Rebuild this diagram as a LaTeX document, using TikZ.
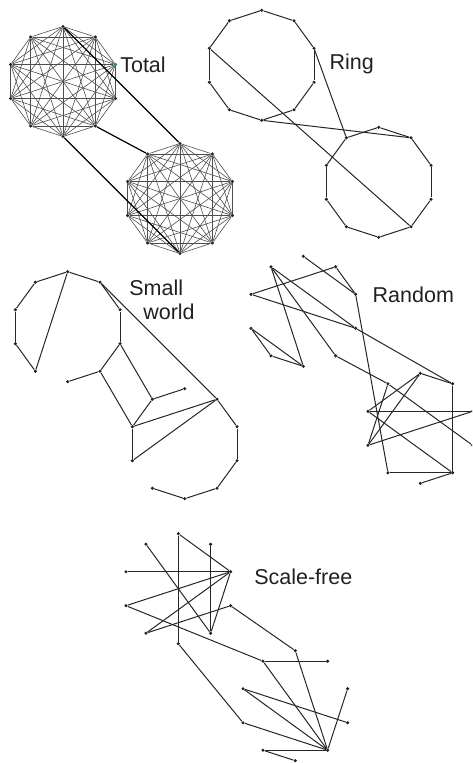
\documentclass[tikz,border=0pt]{standalone}
\usepackage{fontspec}
\setmainfont{Liberation Sans}
\usepackage{xcolor}
\usepackage{tikz}
\usetikzlibrary{
  calc
}
\definecolor{dotcol}{HTML}{2B1A22}
\definecolor{linkcol}{HTML}{262626}
\definecolor{kcol}{HTML}{4E4E4E}
\definecolor{hubcol}{HTML}{1F8C8C}
\definecolor{labelcol}{HTML}{231F20}
\tikzset{
  netdot/.style = {circle, fill=dotcol, inner sep=0pt, minimum size=3.4pt},
  link/.style = {draw=linkcol, line width=1pt},
  klink/.style = {draw=kcol, line width=0.6pt},
  bridge/.style = {draw=black, line width=1.2pt},
  netlabel/.style = {font=\fontsize{21.5}{24}\selectfont, text=labelcol, inner sep=0pt},
}
% two decagons of 10 nodes each: #1 prefix, (#2,#3) centre of the first one
\newcommand{\decagonpair}[3]{%
  \foreach \k in {0,...,9} {
    \node[netdot] (#1a\k) at ($(#2,#3)+(-90+36*\k:55)$) {};
    \node[netdot] (#1b\k) at ($(#2,#3)+(117,117)+(-90+36*\k:55)$) {};
  }}

\begin{document}
\begin{tikzpicture}[x=1pt, y=-1pt]
  \useasboundingbox (0,0) rectangle (472,763);
  \clip (0,0) rectangle (472,763);

  % Total
  \decagonpair{t}{63}{81.5}
  \node[netdot, fill=hubcol] at (ta2) {};
  \foreach \i in {0,...,8} {
    \pgfmathtruncatemacro\n{\i+1}
    \foreach \j in {\n,...,9} {
      \draw[klink] (ta\i) -- (ta\j);
      \draw[klink] (tb\i) -- (tb\j);
    }
  }
  \foreach \u/\v in {ta0/tb0, ta4/tb9, ta5/tb5}
    \draw[bridge] (\u) -- (\v);
  \node[netlabel] (totallbl) at (143,65) {Total};

  % Ring
  \decagonpair{r}{261.7}{65.3}
  \foreach \i [evaluate=\i as \j using {int(mod(\i+1,10))}] in {0,...,9} {
    \draw[link] (ra\i) -- (ra\j);
    \draw[link] (rb\i) -- (rb\j);
  }
  \foreach \u/\v in {ra8/rb4, ra2/rb9, ra5/rb1}
    \draw[link] (\u) -- (\v);
  \node[netlabel] (ringlbl) at (351.7,64) {Ring};

  % Small world
  \decagonpair{s}{67.7}{326.7}
  \foreach \u/\v in {sa9/sa0, sa0/sa1, sa9/sa8, sa8/sa7, sa7/sa6, sa0/sa6,
      sa1/sa2, sa2/sa3, sa1/sb1, sa3/sa4, sa3/sb9, sa5/sa4, sa4/sb8,
      sb9/sb0, sb9/sb8, sb8/sb1, sb8/sb7, sb7/sb1, sb1/sb2, sb2/sb3,
      sb3/sb4, sb4/sb5, sb5/sb6}
    \draw[link] (\u) -- (\v);
  \node[netlabel, align=left] (smalllbl) at (162,300) {Small\\\hspace{0.65em}world};

  % Random
  \decagonpair{x}{303.3}{311.3}
  \foreach \u/\v in {xa0/xa2, xa9/xa3, xa9/xa5, xa9/xa4, xa1/xa8, xa1/xa2,
      xa8/xa3, xa2/xb6, xa7/xa6, xa7/xa5, xa6/xa5, xa3/xb1, xa4/xb9,
      xb9/xb3, xb9/xb7, xb0/xb1, xb0/xb8, xb0/xb7, xb8/xb2, xb8/xb4,
      xb7/xb2, xb1/xb4, xb6/xb4, xb5/xb4}
    \draw[link] (\u) -- (\v);
  \node[netlabel] (randomlbl) at (413.3,295) {Random};

  % Scale-free
  \decagonpair{f}{178.3}{588.7}
  \foreach \u/\v in {fa0/fa5, fa0/fa2, fa9/fa4, fa1/fa4, fa8/fa2, fa2/fa7,
      fa2/fa6, fa2/fa4, fa7/fb9, fa6/fa3, fa3/fb0, fa5/fb7, fb9/fb1,
      fb9/fb4, fb0/fb4, fb8/fb4, fb8/fb3, fb7/fb4, fb2/fb4, fb6/fb5,
      fb6/fb4}
    \draw[link] (\u) -- (\v);
  \node[netlabel] (scalelbl) at (303.3,576.7) {Scale-free};
\end{tikzpicture}
\end{document}
